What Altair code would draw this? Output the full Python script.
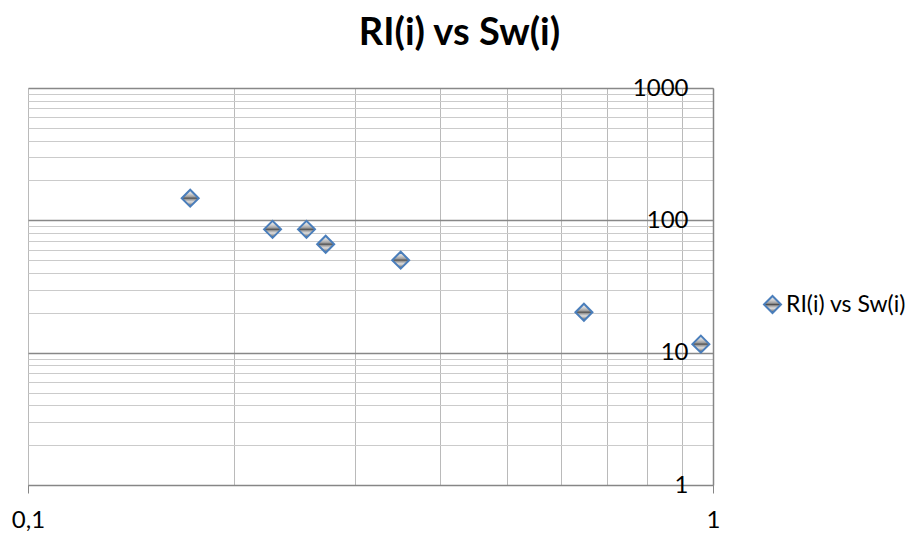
import altair as alt
import pandas as pd

# ---- data ----
sw_values = [0.1725, 0.2275, 0.255, 0.272, 0.35, 0.648, 0.96]
ri_values = [147, 85.5, 85.5, 66, 50, 20.2, 11.6]
series_name = "RI(i) vs Sw(i)"
chart_title = "RI(i) vs Sw(i)"

x_grid_values = [0.1, 0.2, 0.3, 0.4, 0.5, 0.6, 0.7, 0.8, 0.9, 1.0]
y_grid_values = [1, 2, 3, 4, 5, 6, 7, 8, 9,
                 10, 20, 30, 40, 50, 60, 70, 80, 90,
                 100, 200, 300, 400, 500, 600, 700, 800, 900, 1000]

df = pd.DataFrame({
    "Sw": sw_values,
    "RI": ri_values,
    "series": [series_name] * len(sw_values),
})

FONT = "Lato"
LABEL_SIZE = 24

marker_fill = alt.LinearGradient(
    gradient="linear", x1=0, y1=0, x2=0, y2=1,
    stops=[
        alt.GradientStop(offset=0.0, color="#f4f4f4"),
        alt.GradientStop(offset=0.25, color="#cfcfcf"),
        alt.GradientStop(offset=0.42, color="#9c9c9c"),
        alt.GradientStop(offset=0.5, color="#505050"),
        alt.GradientStop(offset=0.58, color="#a0a0a0"),
        alt.GradientStop(offset=0.72, color="#dedede"),
        alt.GradientStop(offset=0.86, color="#969696"),
        alt.GradientStop(offset=1.0, color="#1a1a1a"),
    ],
)

x_axis = alt.Axis(
    values=x_grid_values,
    title=None,
    grid=True,
    gridColor="#bababa",
    gridWidth=1,
    domain=True,
    domainColor="#868686",
    domainWidth=1.5,
    ticks=True,
    tickSize=8,
    tickColor="#868686",
    tickOpacity={"condition": {"test": "abs(datum.value-0.1)<1e-6 || abs(datum.value-1)<1e-6", "value": 1}, "value": 0},
    labelExpr="abs(datum.value-0.1)<1e-6 ? '0,1' : (abs(datum.value-1)<1e-6 ? '1' : '')",
    labelFont=FONT,
    labelFontSize=LABEL_SIZE,
    labelColor="black",
    labelBaseline="alphabetic",
    labelPadding=34,
    labelFlush=False,
    labelOverlap=False,
    labelBound=False,
)

y_axis = alt.Axis(
    orient="right",
    values=y_grid_values,
    title=None,
    grid=True,
    gridColor={"condition": {"test": "indexof([1,10,100,1000], datum.value) >= 0", "value": "#888888"}, "value": "#cbcbcb"},
    gridWidth={"condition": {"test": "indexof([10,100,1000], datum.value) >= 0", "value": 1.5}, "value": 1},
    domain=True,
    domainColor="#868686",
    domainWidth=1.5,
    ticks=False,
    labelExpr="indexof([1,10,100,1000], datum.value) >= 0 ? format(datum.value, 'd') : ''",
    labelFont=FONT,
    labelFontSize=LABEL_SIZE,
    labelColor="black",
    labelAlign="right",
    labelPadding=-25,
    labelOverlap=False,
    labelBound=False,
    labelFlush=False,
)

legend = alt.Legend(
    title=None,
    orient="none",
    legendX=733,
    legendY=205,
    symbolType="diamond",
    symbolSize=289,
    symbolStrokeWidth=2,
    symbolFillColor="#b0b0b0",
    labelFont=FONT,
    labelFontSize=23,
    labelColor="black",
    labelOffset=2,
    padding=0,
)

chart = (
    alt.Chart(df)
    .mark_point(shape="diamond", size=289, fill=marker_fill, fillOpacity=1,
                strokeWidth=2, opacity=1)
    .encode(
        x=alt.X("Sw:Q", scale=alt.Scale(type="log", domain=[0.1, 1], nice=False), axis=x_axis),
        y=alt.Y("RI:Q", scale=alt.Scale(type="log", domain=[1, 1000], nice=False), axis=y_axis),
        stroke=alt.Stroke("series:N", scale=alt.Scale(range=["#4A7EBB"]), legend=legend),
    )
    .properties(
        width=685,
        height=397,
        title=alt.TitleParams(
            text=chart_title, font=FONT, fontSize=38, fontWeight="bold",
            color="black", anchor="middle", dx=89, offset=23,
        ),
        padding={"left": 20, "top": 80, "right": 199, "bottom": 46},
        autosize=alt.AutoSizeParams(type="none"),
    )
    .configure_view(strokeWidth=0)
    .configure(background="white")
)

chart.save("out.html", embed_options={"renderer": "svg", "actions": False})
